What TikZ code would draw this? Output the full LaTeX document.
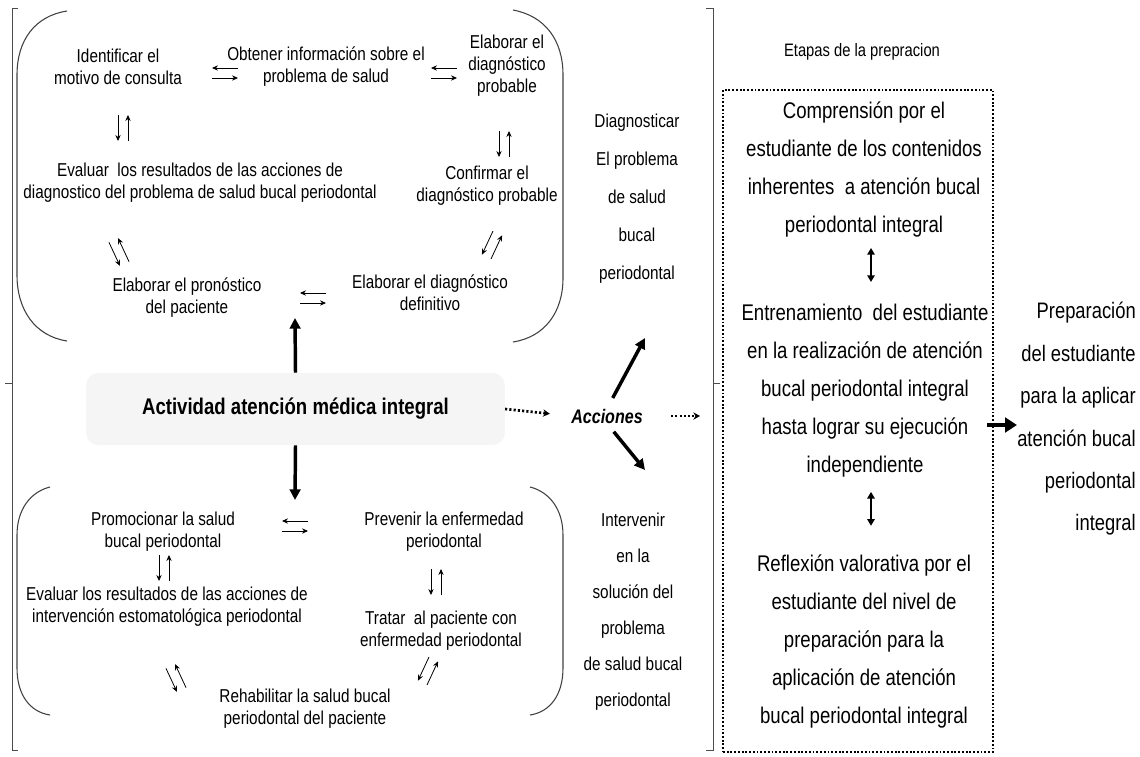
\documentclass[tikz,border=0pt]{standalone}
\usepackage{fontspec}
\setmainfont{Liberation Sans}[FakeStretch=0.82]
\usetikzlibrary{arrows.meta,positioning}

\tikzset{
	txt/.style = {align = center, inner sep = 0pt, font = \fontsize{14}{16.5}\selectfont},
	col/.style = {align = center, inner sep = 0pt, font = \fontsize{14}{28.5}\selectfont},
	stagetxt/.style = {align = center, inner sep = 0pt, font = \fontsize{17}{28.5}\selectfont},
	goaltxt/.style = {align = right, inner sep = 0pt, font = \fontsize{16.8}{31.8}\selectfont},
	paren/.style = {line width = 0.8pt, draw = black!75},
	brace/.style = {line width = 0.7pt, draw = black!70},
	thinarrow/.style = {line width = 0.6pt, -{Stealth[length = 4.5pt, width = 4pt]}},
	bigarrow/.style = {line width = 2.6pt, -{Triangle[length = 8pt, width = 8pt]}},
	dotarrow/.style = {line width = 2pt, dash pattern = on 1.6pt off 1.6pt, -{Stealth[length = 5pt, width = 5.5pt]}},
	twoway/.style = {line width = 1.6pt, {Triangle[length = 5pt, width = 5.5pt]}-{Triangle[length = 5pt, width = 5.5pt]}},
	swap/.pic = {
		\draw [thinarrow] (-5,-13) -- (-5,13);
		\draw [thinarrow] (5,13) -- (5,-13);
	}
}

\begin{document}
\begin{tikzpicture}[x = 0.75pt, y = -0.75pt]
	\useasboundingbox (0,0) rectangle (1140,757);
	
	% outer braces
	\draw [brace] (18,8) -- (12,8) -- (12,750) -- (18,750);
	\draw [brace] (12,383) -- (5,383);
	\draw [brace] (706,8) -- (713,8) -- (713,750) -- (706,750);
	\draw [brace] (713,383) -- (720,383);
	
	% round brackets of the two groups
	\draw [paren] (67,11) .. controls (35,16) and (17,40) .. (17,75) -- (17,275) .. controls (17,310) and (35,336) .. (67,341);
	\draw [paren] (513,10) .. controls (545,16) and (563,40) .. (563,75) -- (563,278) .. controls (563,312) and (545,337) .. (513,342);
	\draw [paren] (50,487) .. controls (30,492) and (17,510) .. (17,535) -- (17,668) .. controls (17,695) and (30,712) .. (50,715);
	\draw [paren] (530,487) .. controls (550,492) and (563,510) .. (563,535) -- (563,668) .. controls (563,695) and (550,712) .. (530,715);
	
	% diagnosis group
	\node(ident) at (118,67) [txt] {Identificar el\\motivo de consulta};
	\node(obt) at (326,67) [txt] {Obtener información sobre el\\problema de salud};
	\node(prob) at (507,66) [txt] {Elaborar el\\diagnóstico\\probable};
	\node(evald) at (200,183) [txt] {Evaluar\ \ los resultados de las acciones de\\diagnostico del problema de salud bucal periodontal};
	\node(conf) at (487,186) [txt] {Confirmar el\\diagnóstico probable};
	\node(prono) at (187,298) [txt] {Elaborar el pronóstico\\del paciente};
	\node(defin) at (430,293) [txt] {Elaborar el diagnóstico\\definitivo};
	
	\pic [rotate = 90] at (225,73) {swap};
	\pic [rotate = 90] at (444,73) {swap};
	\pic at (123,128) {swap};
	\pic at (504,144) {swap};
	\pic [rotate = 25] at (119,252) {swap};
	\pic [rotate = -25] at (492,245) {swap};
	\pic [rotate = 90] at (313,298) {swap};
	
	% intervention group
	\node(promo) at (163,532) [txt] {Promocionar la salud\\bucal periodontal};
	\node(prev) at (444,532) [txt] {Prevenir la enfermedad\\periodontal};
	\node(evali) at (167,607) [txt] {Evaluar los resultados de las acciones de\\intervención estomatológica periodontal};
	\node(trat) at (441,631) [txt] {Tratar\ \ al paciente con\\enfermedad periodontal};
	\node(rehab) at (305,709) [txt] {Rehabilitar la salud bucal\\periodontal del paciente};
	
	\pic [rotate = 90] at (295,526) {swap};
	\pic at (164,568) {swap};
	\pic at (436,582) {swap};
	\pic [rotate = 25] at (176,678) {swap};
	\pic [rotate = -25] at (428,671) {swap};
	
	% activity and actions
	\node(act) at (295.5,409) [fill = black!4, rounded corners = 9pt, minimum width = 314pt, minimum height = 54pt, font = \fontsize{17}{20}\selectfont\bfseries] {Actividad atención médica integral};
	\node(acc) at (607,416) [inner sep = 0pt, font = \fontsize{14.7}{17}\selectfont\bfseries\itshape] {Acciones};
	\coordinate(topin) at (295,318);
	\coordinate(botin) at (295,500);
	\coordinate(diagtip) at (645,338);
	\coordinate(inttip) at (645,470);
	\coordinate(stagein) at (700,416);
	
	\draw [bigarrow] (act.north) -- (topin);
	\draw [bigarrow] (act.south) -- (botin);
	\draw [dotarrow, shorten >= 16pt] (act.east) -- (acc.west);
	\draw [dotarrow, shorten <= 21pt] (acc.east) -- (stagein);
	\draw [bigarrow, shorten <= 9pt] (acc.north) -- (diagtip);
	\draw [bigarrow, shorten <= 8pt] (acc.south) -- (inttip);
	
	\node(diag) at (637,198.5) [col] {Diagnosticar\\El problema\\de salud\\bucal\\periodontal};
	\node(interv) at (633,612) [col, font = \fontsize{14}{27}\selectfont] {Intervenir\\en la\\solución del\\problema\\de salud bucal\\periodontal};
	
	% stages of the preparation
	\node(etapas) at (862,52) [txt, font = \fontsize{13.5}{16}\selectfont] {Etapas de la prepracion};
	\node(stagebox) at (858,421) [draw, line width = 1.6pt, dash pattern = on 1.4pt off 1.4pt, minimum width = 202.5pt, minimum height = 496.5pt] {};
	\node(comp) at (864,170) [stagetxt] {Comprensión por el\\estudiante de los contenidos\\inherentes\ \ a atención bucal\\periodontal integral};
	\node(train) at (865,391) [stagetxt] {Entrenamiento\ \ del estudiante\\en la realización de atención\\bucal periodontal integral\\hasta lograr su ejecución\\independiente};
	\node(refl) at (864,641) [stagetxt] {Reflexión valorativa por el\\estudiante del nivel de\\preparación para la\\aplicación de atención\\bucal periodontal integral};
	
	\draw [twoway] (comp.south) ++(7,10) -- ++(0,34);
	\draw [twoway] (train.south) ++(6,14) -- ++(0,34);
	
	\node(goal) at (1136,419) [goaltxt, anchor = east] {Preparación\\del estudiante\\para la aplicar\\atención bucal\\periodontal\\integral};
	\draw [line width = 3.4pt, -{Triangle[length = 9pt, width = 11pt]}, shorten <= -5pt] (stagebox.east |- 0,425) -- (goal.west |- 0,425);
\end{tikzpicture}
\end{document}
